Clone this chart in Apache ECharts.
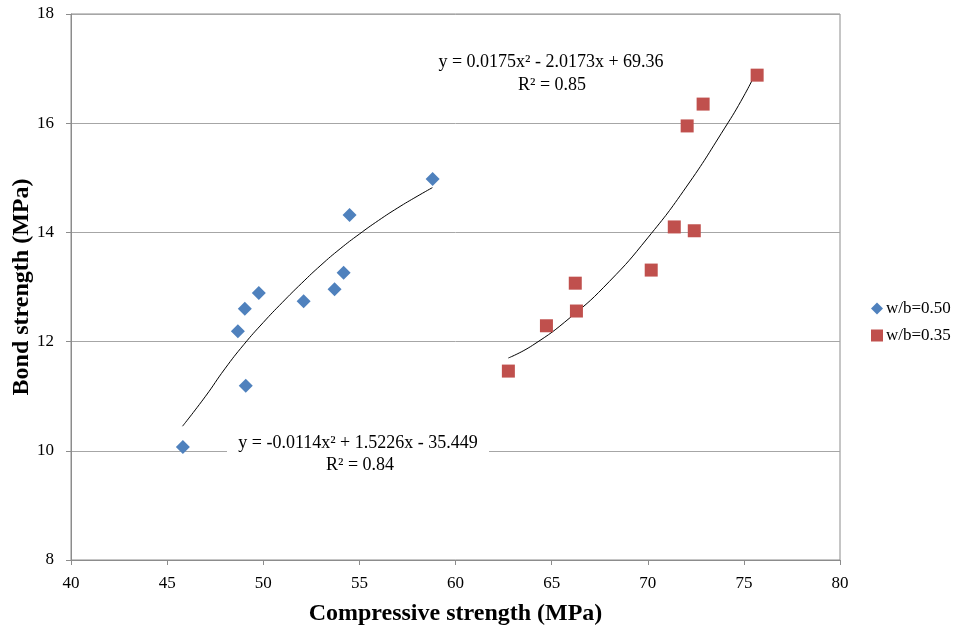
<!DOCTYPE html>
<html>
<head>
<meta charset="utf-8">
<script src="https://cdn.jsdelivr.net/npm/echarts@6/dist/echarts.min.js"></script>
<style>
  html, body { margin: 0; padding: 0; background: #fff; }
  #chart_box { width: 966px; height: 633px; }
</style>
</head>
<body>
<div id="chart_box"></div>
<script>
// 数据：点
var xTicks = [40, 45, 50, 55, 60, 65, 70, 75, 80];
var yTicks = [8, 10, 12, 14, 16, 18];

var seriesNames = ['w/b=0.50', 'w/b=0.35'];

// w/b=0.50 [compressive, bond]
var wb050 = [
  [45.82, 10.07], [48.68, 12.19], [49.04, 12.60], [49.77, 12.89], [49.09, 11.19],
  [52.10, 12.74], [53.71, 12.96], [54.18, 13.26], [54.49, 14.32], [58.81, 14.98]
];
// w/b=0.35
var wb035 = [
  [62.75, 11.46], [64.73, 12.29], [66.23, 13.07], [66.29, 12.56], [70.18, 13.31],
  [71.38, 14.10], [72.42, 14.03], [72.05, 15.95], [72.88, 16.35], [75.69, 16.88]
];

// 趋势线
var trend050 = [
  [45.8, 10.45], [47, 11.0], [48, 11.5], [49, 11.95], [50, 12.35], [51, 12.72],
  [52, 13.07], [53, 13.4], [54, 13.7], [55, 13.97], [56, 14.22], [57, 14.45],
  [58, 14.66], [58.8, 14.82]
];
var trend035 = [
  [62.75, 11.7], [64, 11.93], [66, 12.45], [68, 13.1], [70, 13.9],
  [72, 14.83], [74, 15.91], [75, 16.5], [75.7, 16.98]
];

var eqTexts = [
  'y = 0.0175x² - 2.0173x + 69.36',
  'R² = 0.85',
  'y = -0.0114x² + 1.5226x - 35.449',
  'R² = 0.84'
];

var FONT = '"Liberation Serif", "Times New Roman", serif';

var myChart1 = echarts.init(document.getElementById('chart_box'));

var eqStyle = { fontFamily: FONT, fontSize: 18, fill: '#000', align: 'center', verticalAlign: 'middle' };

var option = {
  animation: false,
  backgroundColor: '#fff',
  textStyle: { fontFamily: FONT },
  grid: {
    left: 71, right: 126, top: 14, bottom: 73,
    containLabel: false, outerBoundsMode: 'none',
    show: true, borderColor: '#8c8c8c', borderWidth: 1
  },
  legend: {
    data: [
      { name: seriesNames[0], icon: 'path://M0,-1L1,0L0,1L-1,0Z' },
      { name: seriesNames[1], icon: 'rect' }
    ],
    orient: 'vertical',
    left: 866, top: 295,
    itemWidth: 12, itemHeight: 12, itemGap: 10,
    textStyle: { fontFamily: FONT, fontSize: 17, color: '#000', padding: [0, 0, 0, -2] }
  },
  xAxis: {
    type: 'value',
    min: 40, max: 80, interval: 5,
    name: 'Compressive strength (MPa)',
    nameLocation: 'middle', nameGap: 42, nameMoveOverlap: false,
    nameTextStyle: { fontFamily: FONT, fontSize: 24, fontWeight: 'bold', color: '#000' },
    axisLine: { show: true, lineStyle: { color: '#8c8c8c' } },
    axisTick: { show: true, length: 5, lineStyle: { color: '#8c8c8c' } },
    axisLabel: { fontFamily: FONT, fontSize: 17, color: '#000', margin: 15 },
    splitLine: { show: false }
  },
  yAxis: {
    type: 'value',
    min: 8, max: 18, interval: 2,
    name: 'Bond strength (MPa)',
    nameLocation: 'middle', nameGap: 37, nameMoveOverlap: false,
    nameTextStyle: { fontFamily: FONT, fontSize: 24, fontWeight: 'bold', color: '#000' },
    axisLine: { show: true, lineStyle: { color: '#8c8c8c' } },
    axisTick: { show: true, length: 5, lineStyle: { color: '#8c8c8c' } },
    axisLabel: { fontFamily: FONT, fontSize: 17, color: '#000', margin: 17 },
    splitLine: { show: true, lineStyle: { color: '#a6a6a6', width: 1 } }
  },
  series: [
    {
      name: 'trend1', type: 'line', data: trend050, smooth: true,
      showSymbol: false, silent: true, z: 2,
      lineStyle: { color: '#000', width: 1 }
    },
    {
      name: 'trend2', type: 'line', data: trend035, smooth: true,
      showSymbol: false, silent: true, z: 2,
      lineStyle: { color: '#000', width: 1 }
    },
    {
      name: seriesNames[0], type: 'scatter', data: wb050, z: 3,
      symbol: 'path://M0,-1L1,0L0,1L-1,0Z', symbolSize: 14,
      itemStyle: { color: '#4f81bd', opacity: 1 }
    },
    {
      name: seriesNames[1], type: 'scatter', data: wb035, z: 3,
      symbol: 'rect', symbolSize: 13,
      itemStyle: { color: '#c0504d', opacity: 1 }
    }
  ],
  graphic: [
    // 下方公式的白底，盖住网格线
    {
      type: 'rect', z: 9,
      shape: { x: 227, y: 433, width: 262, height: 44 },
      style: { fill: '#fff' }
    },
    { type: 'text', x: 551, y: 62, z: 10, style: Object.assign({ text: eqTexts[0] }, eqStyle) },
    { type: 'text', x: 552, y: 85, z: 10, style: Object.assign({ text: eqTexts[1] }, eqStyle) },
    { type: 'text', x: 358, y: 443, z: 10, style: Object.assign({ text: eqTexts[2] }, eqStyle) },
    { type: 'text', x: 360, y: 465, z: 10, style: Object.assign({ text: eqTexts[3] }, eqStyle) }
  ]
};

myChart1.setOption(option);
</script>
</body>
</html>
